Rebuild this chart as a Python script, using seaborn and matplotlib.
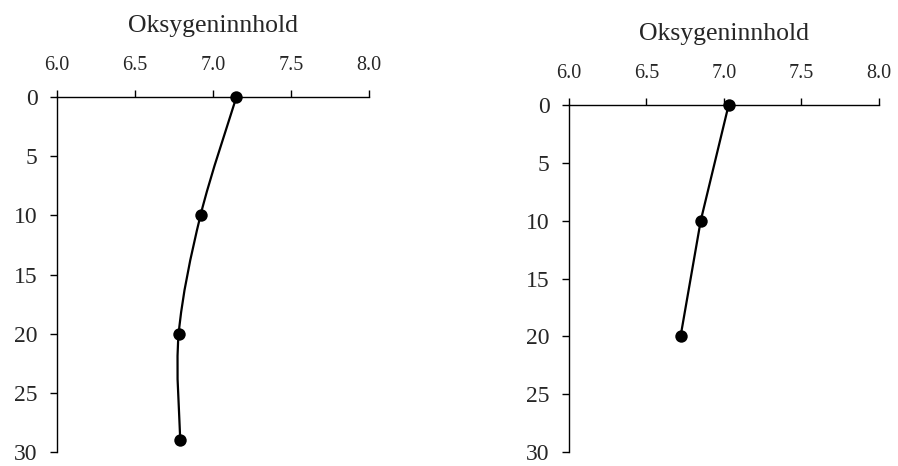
import numpy as np
import matplotlib
matplotlib.use("Agg")
import matplotlib.pyplot as plt
from matplotlib.path import Path
from matplotlib.patches import PathPatch
from matplotlib.ticker import FormatStrFormatter
import seaborn as sns

# Oxygen content by depth at two stations
depth_a = [0, 10, 20, 29]
oxygen_a = [7.15, 6.92, 6.78, 6.79]

depth_b = [0, 10, 20]
oxygen_b = [7.03, 6.85, 6.72]

x_ticks = [6.0, 6.5, 7.0, 7.5, 8.0]
y_ticks = [0, 5, 10, 15, 20, 25, 30]
axis_title = "Oksygeninnhold"

sns.set_style("white")
plt.rcParams["font.family"] = ["Liberation Serif", "DejaVu Serif"]


def smooth_path(xs, ys):
    """Cubic Bezier path through the points (Catmull-Rom style control points)."""
    pts = np.column_stack([xs, ys]).astype(float)
    n = len(pts)
    verts = [pts[0]]
    codes = [Path.MOVETO]
    for i in range(n - 1):
        p0 = pts[i - 1] if i > 0 else pts[i]
        p1 = pts[i]
        p2 = pts[i + 1]
        p3 = pts[i + 2] if i + 2 < n else pts[i + 1]
        c1 = p1 + (p2 - p0) / 6.0
        c2 = p2 - (p3 - p1) / 6.0
        verts += [c1, c2, p2]
        codes += [Path.CURVE4] * 3
    return Path(verts, codes)


def style_axes(ax, label_pad):
    ax.set_xlim(6.0, 8.0)
    ax.set_ylim(30, 0)
    ax.set_xticks(x_ticks)
    ax.set_yticks(y_ticks)
    ax.xaxis.set_major_formatter(FormatStrFormatter("%.1f"))
    ax.xaxis.tick_top()
    ax.xaxis.set_label_position("top")
    ax.set_xlabel(axis_title, fontsize=18.5, labelpad=label_pad)
    ax.set_ylabel("")
    for side in ("right", "bottom"):
        ax.spines[side].set_visible(False)
    for side in ("top", "left"):
        ax.spines[side].set_visible(True)
        ax.spines[side].set_color("black")
        ax.spines[side].set_linewidth(1.0)
    ax.tick_params(axis="x", which="major", direction="out", length=5, width=1,
                   color="black", labelsize=14.5, pad=11, top=True, bottom=False)
    ax.tick_params(axis="y", which="major", direction="out", length=5, width=1,
                   color="black", labelsize=17, pad=9, left=True)
    ax.grid(False)


fig = plt.figure(figsize=(8.98, 4.66), dpi=100)
ax1 = fig.add_axes([0.0635, 0.030, 0.3474, 0.7618])
ax2 = fig.add_axes([0.6336, 0.030, 0.3452, 0.7446])

# Station A: smoothed line through the measurements
ax1.add_patch(PathPatch(smooth_path(oxygen_a, depth_a), facecolor="none",
                        edgecolor="black", linewidth=1.6, clip_on=False))
sns.scatterplot(x=oxygen_a, y=depth_a, ax=ax1, color="black", s=80,
                edgecolor="black", linewidth=0, clip_on=False, zorder=3)

# Station B: straight segments
sns.lineplot(x=oxygen_b, y=depth_b, ax=ax2, color="black", linewidth=1.6,
             sort=False, orient="y", clip_on=False)
sns.scatterplot(x=oxygen_b, y=depth_b, ax=ax2, color="black", s=80,
                edgecolor="black", linewidth=0, clip_on=False, zorder=3)

style_axes(ax1, 17)
style_axes(ax2, 17)

fig.savefig("out.png", dpi=100)
